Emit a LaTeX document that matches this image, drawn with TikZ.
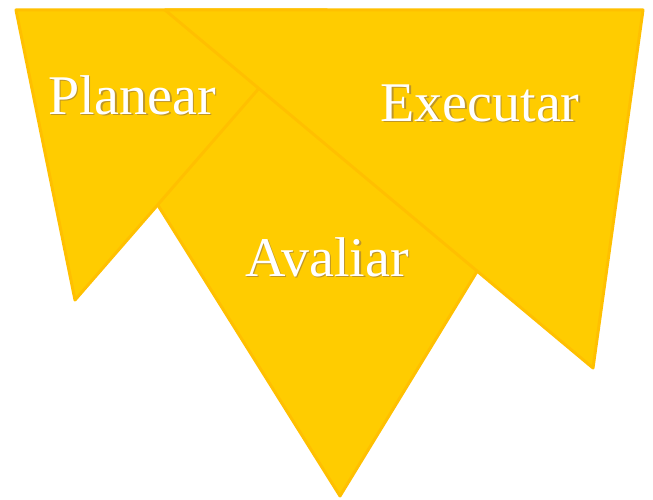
\documentclass[tikz,border=0pt]{standalone}
\usepackage{fontspec}
\setmainfont{Liberation Serif}
\definecolor{tri}{RGB}{255,204,0}
\definecolor{triedge}{RGB}{255,192,0}
\definecolor{txtshadow}{RGB}{190,150,40}
\newcommand{\shadowtext}[1]{\makebox[0pt][l]{\hspace{1.5pt}\raisebox{-1.5pt}{\textcolor{txtshadow}{#1}}}#1}
\begin{document}
\begin{tikzpicture}[x=1pt,y=-1pt,
  tri/.style={fill=tri,draw=triedge,line width=3pt,line join=round},
  lbl/.style={text=white,font=\fontsize{56}{66}\selectfont,inner sep=0pt}]
\useasboundingbox (0,0) rectangle (653,500);
% Avaliar (bottom layer)
\draw[tri] (67,60) -- (606,60) -- (340,496) -- cycle;
% Planear
\draw[tri] (16,10) -- (327,10) -- (75,300) -- cycle;
% Executar
\draw[tri] (165,10) -- (643,10) -- (593,368) -- cycle;
% labels
\node[lbl] (planear) at (132,96) {\shadowtext{Planear}};
\node[lbl] (executar) at (480,104) {\shadowtext{Executar}};
\node[lbl] (avaliar) at (327,258) {\shadowtext{Avaliar}};
\end{tikzpicture}
\end{document}
